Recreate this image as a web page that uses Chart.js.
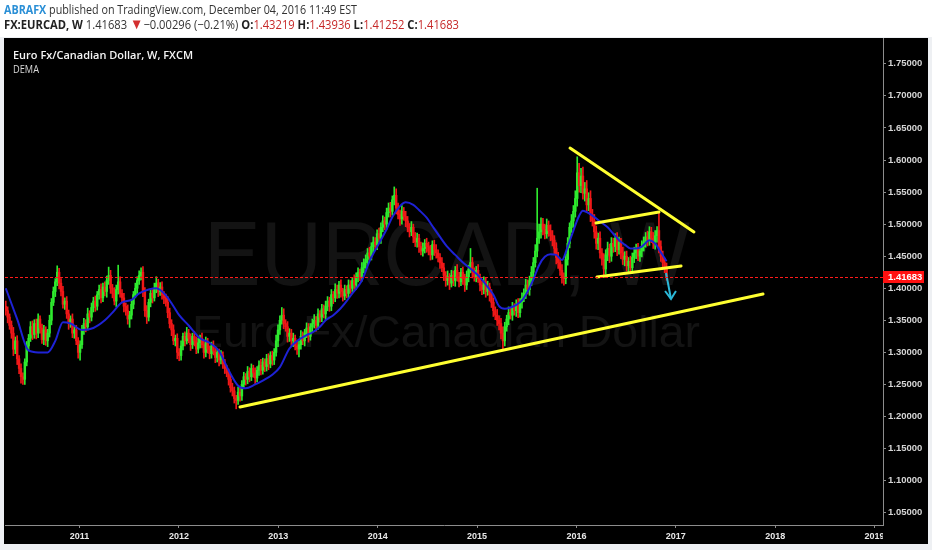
<!DOCTYPE html>
<html>
<head>
<meta charset="utf-8">
<script src="https://cdn.jsdelivr.net/npm/chart.js@4.4.0/dist/chart.umd.min.js"></script>
<style>
html,body{margin:0;padding:0;background:#eef0f3;width:932px;height:550px;overflow:hidden;}
#wrap{position:relative;width:932px;height:550px;}
#c{position:absolute;left:0;top:0;}
.hl{position:absolute;left:4px;white-space:nowrap;font-family:"Open Sans",sans-serif;font-size:12.5px;line-height:16px;color:#333;transform-origin:0 50%;}
#l1{top:2px;}
#l2{top:17px;}
.auth{color:#2a8fd6;font-weight:700;}
.b{font-weight:700;color:#222;}
.r{color:#c62828;}
.tri{color:#d32f2f;font-size:15px;line-height:10px;}
</style>
</head>
<body>
<div id="wrap">
<canvas id="c" width="932" height="550"></canvas>
<div class="hl" id="l1"></div>
<div class="hl" id="l2"></div>
</div>
<script>
// ---------------- DATA ----------------
const author = 'ABRAFX';
const publishedText = ' published on TradingView.com, December 04, 2016 11:49 EST';
const symbolText = 'FX:EURCAD, W';
const seriesTitle = 'Euro Fx/Canadian Dollar, W, FXCM';
const indicatorTitle = 'DEMA';
const watermarkMain = 'EURCAD, W';
const watermarkSub = 'Euro Fx/Canadian Dollar';
const quoteChange = -0.00296;
const quoteChangePct = -0.21;

const weekStart = '2010-04-05';
const firstOpen = 1.372;
const closes = [
1.365,1.355,1.342,1.330,1.305,1.318,1.290,1.275,1.262,1.258,
1.285,1.310,1.322,1.340,1.328,1.345,1.330,1.352,1.338,1.320,
1.335,1.318,1.330,1.350,1.378,1.395,1.410,1.425,1.408,1.395,
1.375,1.380,1.360,1.345,1.352,1.330,1.335,1.318,1.300,1.312,
1.335,1.345,1.340,1.360,1.355,1.370,1.380,1.372,1.390,1.398,
1.385,1.402,1.395,1.412,1.420,1.400,1.392,1.380,1.398,1.410,
1.392,1.385,1.372,1.365,1.352,1.358,1.375,1.390,1.400,1.412,
1.420,1.425,1.395,1.365,1.355,1.378,1.392,1.385,1.400,1.408,
1.395,1.402,1.390,1.385,1.378,1.362,1.345,1.335,1.318,1.322,
1.300,1.295,1.310,1.325,1.318,1.330,1.322,1.312,1.325,1.318,
1.305,1.315,1.322,1.312,1.300,1.315,1.305,1.298,1.310,1.302,
1.292,1.300,1.288,1.295,1.282,1.275,1.268,1.258,1.245,1.240,
1.228,1.225,1.238,1.232,1.250,1.262,1.258,1.270,1.262,1.275,
1.268,1.260,1.272,1.280,1.272,1.285,1.278,1.290,1.282,1.295,
1.288,1.300,1.318,1.335,1.350,1.358,1.345,1.340,1.325,1.330,
1.318,1.322,1.310,1.305,1.312,1.325,1.318,1.330,1.338,1.325,
1.340,1.345,1.350,1.342,1.360,1.355,1.368,1.360,1.372,1.380,
1.372,1.390,1.385,1.398,1.392,1.405,1.395,1.388,1.398,1.392,
1.405,1.400,1.412,1.405,1.418,1.425,1.418,1.432,1.440,1.445,
1.455,1.450,1.465,1.472,1.468,1.485,1.478,1.495,1.505,1.500,
1.518,1.525,1.520,1.538,1.545,1.525,1.515,1.508,1.520,1.512,
1.505,1.495,1.488,1.495,1.480,1.472,1.478,1.465,1.458,1.462,
1.470,1.465,1.458,1.452,1.468,1.460,1.455,1.448,1.440,1.432,
1.420,1.412,1.418,1.408,1.420,1.412,1.428,1.418,1.410,1.425,
1.415,1.405,1.418,1.430,1.440,1.425,1.418,1.428,1.415,1.405,
1.398,1.410,1.395,1.402,1.390,1.378,1.365,1.358,1.350,1.345,
1.330,1.318,1.340,1.352,1.362,1.358,1.370,1.365,1.375,1.362,
1.378,1.385,1.392,1.405,1.398,1.412,1.425,1.440,1.458,1.478,
1.488,1.500,1.492,1.485,1.498,1.490,1.482,1.475,1.462,1.448,
1.440,1.428,1.418,1.415,1.445,1.470,1.495,1.505,1.520,1.540,
1.580,1.560,1.575,1.548,1.555,1.530,1.540,1.515,1.505,1.488,
1.470,1.478,1.455,1.445,1.430,1.452,1.462,1.450,1.470,1.465,
1.478,1.460,1.472,1.455,1.445,1.450,1.435,1.442,1.432,1.448,
1.455,1.462,1.450,1.458,1.465,1.472,1.480,1.475,1.488,1.478,
1.470,1.482,1.490,1.465,1.450,1.440,1.43219,1.41683
];
// wick lengths above / below the body, in units of 0.001
const upperWicks = [
8,6,5,7,9,6,8,5,7,6, 5,7,6,8,9,6,7,8,5,6, 7,5,6,8,6,7,5,10,6,7, 8,5,7,6,5,8,6,7,5,6,
7,8,6,9,5,7,6,8,5,7, 9,6,8,7,13,8,6,9,7,26, 8,6,7,5,9,6,7,5,8,6, 7,7,9,6,8,5,7,6,8,10,
6,7,8,5,6,9,7,6,8,5, 7,6,8,5,7,9,6,7,5,8, 6,7,5,8,6,9,7,5,6,8, 7,6,5,8,6,7,5,6,8,7,
6,5,8,9,6,7,5,8,6,7, 5,8,6,7,9,6,5,7,8,6, 7,6,9,8,7,12,10,6,8,7, 6,8,5,7,6,9,7,6,8,7,
5,7,9,6,8,5,7,6,8,7, 6,8,5,9,7,6,8,5,7,6, 8,7,5,9,6,7,5,8,6,7, 7,9,6,8,7,6,9,7,8,6,
7,8,9,6,13,10,8,7,9,6, 8,7,6,9,5,7,8,6,7,9, 6,8,7,9,6,7,8,5,6,8, 7,6,9,5,8,7,6,9,7,6,
8,7,9,6,22,8,7,6,9,7, 6,8,7,9,6,8,7,6,9,7, 8,10,7,6,9,7,8,6,7,9, 6,8,7,9,8,7,9,8,10,78,
12,10,9,8,10,7,9,8,7,9, 8,7,9,6,8,9,7,10,9,12, 25,15,12,14,10,13,9,12,8,10, 9,8,10,7,9,8,10,7,9,8,
7,9,8,6,9,7,8,6,8,7, 9,7,8,6,9,8,7,9,8,7, 9,8,6,28,9,8,7,7.17
];
const lowerWicks = [
7,9,6,8,10,7,9,8,10,8, 8,6,7,5,8,6,9,7,8,6, 8,7,9,6,7,5,8,6,9,7, 6,8,7,9,6,7,8,6,9,12,
6,7,8,5,9,6,7,8,6,7, 8,6,7,9,6,8,7,6,9,7, 6,8,9,7,8,13,6,7,5,8, 6,7,8,9,10,6,7,8,5,7,
8,6,7,9,6,8,7,9,6,8, 10,8,7,6,8,5,7,9,6,8, 7,6,8,5,9,7,6,8,7,6, 8,7,9,6,7,8,6,9,7,8,
7,13,6,8,7,6,9,7,8,6, 7,9,6,8,7,6,8,7,9,6, 8,7,6,9,7,6,8,7,9,8, 7,9,6,8,12,7,6,8,7,9,
6,8,7,9,6,8,7,6,9,7, 8,7,9,6,8,7,9,8,6,7, 7,8,6,9,7,8,6,7,8,9, 8,7,6,9,7,8,6,8,7,9,
8,7,9,6,8,9,7,10,8,6, 9,7,8,6,9,7,8,9,6,8, 7,9,6,8,7,9,8,7,9,6, 8,9,7,10,6,8,9,7,8,6,
9,10,7,8,6,9,7,8,6,9, 8,7,9,6,10,8,9,7,8,10, 9,13,8,7,9,6,8,7,9,8, 7,9,6,8,7,9,8,10,7,9,
8,10,9,8,7,9,8,9,8,10, 9,8,10,10,8,9,7,8,10,9, 12,10,11,9,12,10,9,11,8,10, 9,10,8,9,11,8,9,10,8,9,
8,9,7,9,8,10,8,9,7,9, 8,9,7,8,9,7,8,9,8,7, 8,9,10,10,8,9,8,4.31
];

const demaWeeks = [0,6,12,17,22,26,30,34,40,46,52,56,61,66,70,75,79,84,88,91,96,102,107,112,117,122,126,131,135,140,144,149,154,158,161,165,168,172,175,179,182,187,191,196,200,203,207,210,214,217,221,224,228,232,236,240,245,249,253,256,259,262,265,268,271,274,277,280,283,286,289,292,295,298,301,303,306,309,312,316,319,322,325,328,331,334,338,341,344,347];
const demaValues = [1.400,1.352,1.303,1.300,1.300,1.318,1.347,1.345,1.335,1.338,1.350,1.362,1.378,1.382,1.392,1.398,1.400,1.389,1.372,1.358,1.342,1.322,1.315,1.302,1.272,1.248,1.244,1.250,1.256,1.265,1.277,1.306,1.320,1.327,1.331,1.340,1.350,1.358,1.366,1.380,1.392,1.412,1.442,1.470,1.492,1.511,1.528,1.534,1.530,1.522,1.510,1.497,1.480,1.464,1.452,1.440,1.428,1.417,1.402,1.390,1.372,1.368,1.370,1.374,1.381,1.395,1.414,1.436,1.449,1.453,1.452,1.444,1.465,1.490,1.513,1.521,1.517,1.511,1.504,1.495,1.485,1.475,1.468,1.462,1.462,1.465,1.475,1.470,1.456,1.442];

// drawn trend lines: [decimal year, price] endpoints
const supportLine    = [[2012.615, 1.2148], [2017.878, 1.3910]];
const resistanceLine = [[2015.936, 1.6187], [2017.183, 1.4877]];
const flagTop        = [[2016.197, 1.5018], [2016.831, 1.5189]];
const flagBottom     = [[2016.207, 1.4176], [2017.053, 1.4347]];
const arrowShaft     = [[2016.902, 1.4238], [2016.952, 1.3833]];
const arrowHead      = [[2016.892, 1.3957], [2016.952, 1.3833], [2017.002, 1.3957]];

const xTickYears = [2011, 2012, 2013, 2014, 2015, 2016, 2017, 2018, 2019];
const yTickValues = [1.05, 1.10, 1.15, 1.20, 1.25, 1.30, 1.35, 1.40, 1.45, 1.50, 1.55, 1.60, 1.65, 1.70, 1.75];

// ---------------- BUILD ----------------
function decYear(ms){
  const d = new Date(ms); const y = d.getUTCFullYear();
  const s = Date.UTC(y,0,1), e = Date.UTC(y+1,0,1);
  return y + (ms - s) / (e - s);
}
const t0 = Date.parse(weekStart + 'T00:00:00Z');
const weekX = i => decYear(t0 + i * 7 * 86400000);

const UP = '#2eea2e', DOWN = '#f01818';
const wickData = [], bodyData = [], candleColors = [];
const candles = [];
for (let i = 0; i < closes.length; i++){
  const o = i === 0 ? firstOpen : closes[i-1];
  const c = closes[i];
  const h = Math.max(o,c) + upperWicks[i] / 1000;
  const l = Math.min(o,c) - lowerWicks[i] / 1000;
  candles.push({o,h,l,c});
  const x = weekX(i);
  wickData.push({x, y:[l,h]});
  bodyData.push({x, y:[Math.min(o,c), Math.max(o,c)]});
  candleColors.push(c >= o ? UP : DOWN);
}
const demaData = demaWeeks.map((w,k) => ({x: weekX(w), y: demaValues[k]}));
const pts = arr => arr.map(p => ({x:p[0], y:p[1]}));
const last = candles[candles.length-1];

// ---------------- HEADER ----------------
const f5 = v => v.toFixed(5);
document.getElementById('l1').innerHTML = '<span class="auth">' + author + '</span>' + publishedText;
document.getElementById('l2').innerHTML =
  '<span class="b">' + symbolText + '</span> ' + f5(last.c) + ' <span class="tri">▼</span>' +
  '−' + f5(Math.abs(quoteChange)) + ' (−' + Math.abs(quoteChangePct).toFixed(2) + '%) ' +
  '<span class="b">O:</span><span class="r">' + f5(last.o) + '</span> ' +
  '<span class="b">H:</span><span class="r">' + f5(last.h) + '</span> ' +
  '<span class="b">L:</span><span class="r">' + f5(last.l) + '</span> ' +
  '<span class="b">C:</span><span class="r">' + f5(last.c) + '</span>';
function fitEl(id, w){
  const el = document.getElementById(id);
  el.style.transform = 'none';
  const nat = el.getBoundingClientRect().width;
  el.style.transform = 'scaleX(' + (w / nat) + ')';
}
fitEl('l1', 353); fitEl('l2', 455);

// ---------------- PLUGIN ----------------
function fitText(ctx, text, x, y, w){
  const m = ctx.measureText(text).width;
  ctx.save(); ctx.translate(x, y); ctx.scale(w / m, 1); ctx.fillText(text, 0, 0); ctx.restore();
}
const deco = {
  id: 'deco',
  beforeDraw(chart){
    const ctx = chart.ctx; ctx.save();
    ctx.fillStyle = '#eef0f3'; ctx.fillRect(0, 0, 932, 550);
    ctx.fillStyle = '#ffffff'; ctx.fillRect(0, 0, 932, 37);
    ctx.fillStyle = '#000000'; ctx.fillRect(4, 38, 924, 506);
    ctx.restore();
  },
  beforeDatasetsDraw(chart){
    const ctx = chart.ctx, a = chart.chartArea;
    ctx.save();
    ctx.beginPath(); ctx.rect(a.left, a.top, a.right - a.left, a.bottom - a.top); ctx.clip();
    ctx.fillStyle = '#131313'; ctx.textBaseline = 'alphabetic'; ctx.textAlign = 'left';
    ctx.font = '90px "Liberation Sans", Arial, sans-serif';
    fitText(ctx, watermarkMain, 204, 285, 486);
    ctx.font = '44px "Liberation Sans", Arial, sans-serif';
    fitText(ctx, watermarkSub, 192, 347, 508);
    ctx.restore();
  },
  afterDatasetsDraw(chart){
    const ctx = chart.ctx, a = chart.chartArea, y = chart.scales.y.getPixelForValue(last.c);
    ctx.save();
    ctx.strokeStyle = '#ff1a1a'; ctx.lineWidth = 1; ctx.setLineDash([3, 2]);
    ctx.beginPath(); ctx.moveTo(a.left, Math.round(y) + 0.5); ctx.lineTo(a.right, Math.round(y) + 0.5); ctx.stroke();
    ctx.setLineDash([]);
    ctx.textAlign = 'left'; ctx.textBaseline = 'alphabetic';
    ctx.fillStyle = '#f4f4f4'; ctx.font = '600 11.5px "Open Sans", sans-serif';
    fitText(ctx, seriesTitle, 13, 59, 180);
    ctx.fillStyle = '#d8d8d8'; ctx.font = '11px "Open Sans", sans-serif';
    fitText(ctx, indicatorTitle, 13, 73, 26);
    ctx.restore();
  },
  afterDraw(chart){
    const ctx = chart.ctx, a = chart.chartArea, y = chart.scales.y.getPixelForValue(last.c);
    ctx.save();
    ctx.fillStyle = '#000000'; ctx.fillRect(a.right, a.bottom + 1, 928 - a.right, 544 - a.bottom - 1);
    ctx.fillStyle = '#ff1010'; ctx.fillRect(a.right, Math.round(y) - 6, 41, 12);
    ctx.fillStyle = '#ffffff'; ctx.font = 'bold 9.5px "Liberation Sans", Arial, sans-serif';
    ctx.textBaseline = 'middle'; ctx.textAlign = 'left';
    ctx.fillText(f5(last.c), a.right + 5, Math.round(y) + 0.5);
    ctx.restore();
  }
};

const tickFont = {family: '"Liberation Sans", Arial, sans-serif', weight: 'bold'};
new Chart(document.getElementById('c'), {
  type: 'bar',
  data: {
    datasets: [
      {type:'bar', data: wickData, backgroundColor: candleColors, barThickness: 1, grouped: false, order: 6},
      {type:'bar', data: bodyData, backgroundColor: candleColors, barThickness: 1.8, grouped: false, order: 5},
      {type:'line', data: demaData, borderColor:'#1e22d6', borderWidth: 2, pointRadius: 0, cubicInterpolationMode:'monotone', order: 4},
      {type:'line', data: pts(supportLine), borderColor:'#ffff30', borderWidth: 3, pointRadius: 0, borderCapStyle:'round', order: 3},
      {type:'line', data: pts(resistanceLine), borderColor:'#ffff30', borderWidth: 3, pointRadius: 0, borderCapStyle:'round', order: 3},
      {type:'line', data: pts(flagTop), borderColor:'#ffff30', borderWidth: 3, pointRadius: 0, borderCapStyle:'round', order: 3},
      {type:'line', data: pts(flagBottom), borderColor:'#ffff30', borderWidth: 3, pointRadius: 0, borderCapStyle:'round', order: 3},
      {type:'line', data: pts(arrowShaft), borderColor:'#2bb8d8', borderWidth: 2, pointRadius: 0, order: 2},
      {type:'line', data: pts(arrowHead), borderColor:'#2bb8d8', borderWidth: 2, pointRadius: 0, order: 2}
    ]
  },
  options: {
    responsive: false, animation: false, devicePixelRatio: 1, events: [],
    layout: {padding: {left: 5, top: 38, right: 4, bottom: 6}},
    plugins: {legend: {display: false}, tooltip: {enabled: false}},
    scales: {
      x: {
        type: 'linear', min: 2010.25, max: 2019.0853, offset: false,
        grid: {display: true, drawOnChartArea: false, drawTicks: true, tickLength: 3, color: '#8c8c8c', offset: false},
        border: {display: true, color: '#8c8c8c', width: 1},
        ticks: {color: '#e8e8e8', font: Object.assign({size: 9}, tickFont), padding: 3, autoSkip: false, maxRotation: 0, callback: v => String(v)},
        afterBuildTicks(s){ s.ticks = xTickYears.map(v => ({value: v})); },
        afterFit(s){ s.height = 19; }
      },
      y: {
        type: 'linear', position: 'right', min: 1.03084, max: 1.79024, stacked: false, beginAtZero: false,
        grid: {display: true, drawOnChartArea: false, drawTicks: true, tickLength: 3, color: '#8c8c8c'},
        border: {display: true, color: '#8c8c8c', width: 1},
        ticks: {color: '#d6d6d6', font: Object.assign({size: 9.5}, tickFont), padding: 2, autoSkip: false, callback: v => v.toFixed(5)},
        afterBuildTicks(s){ s.ticks = yTickValues.map(v => ({value: v})); },
        afterFit(s){ s.width = 45; }
      }
    }
  },
  plugins: [deco]
});
</script>
</body>
</html>
